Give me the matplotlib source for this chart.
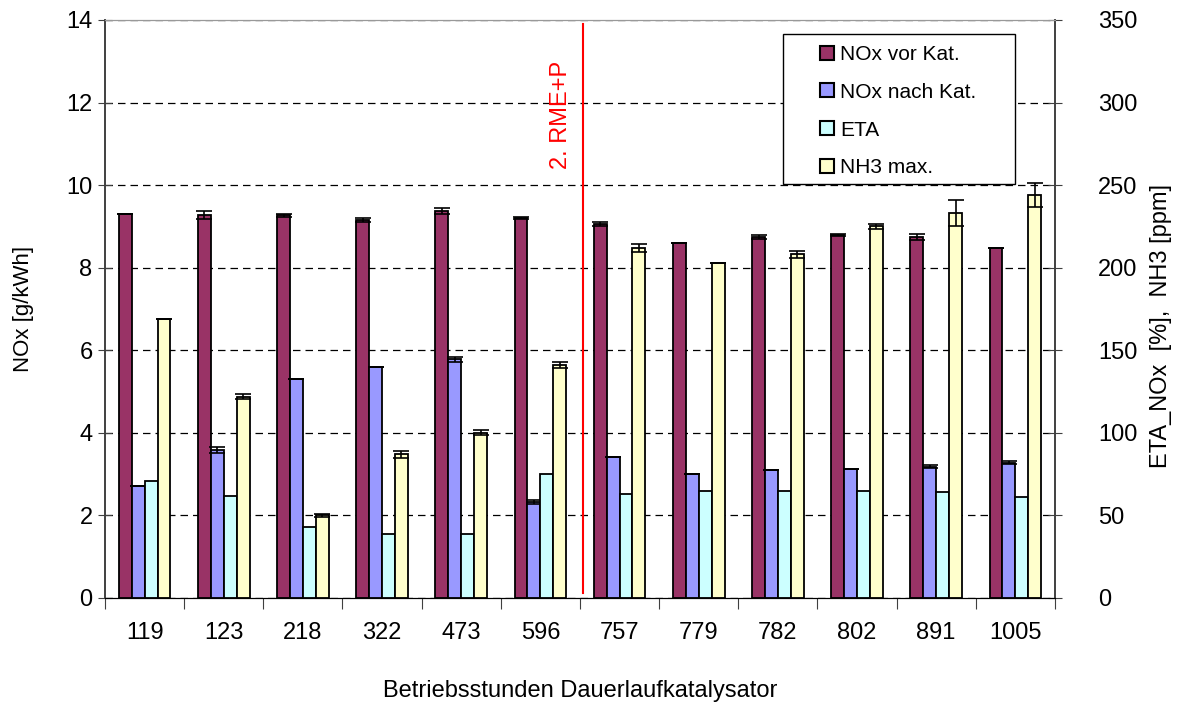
import numpy as np
import matplotlib.pyplot as plt
from matplotlib.patches import Rectangle, Patch

plt.rcParams['font.family'] = ['Liberation Sans', 'DejaVu Sans']

hours = ['119', '123', '218', '322', '473', '596', '757', '779', '782', '802', '891', '1005']
nox_vor = [9.30, 9.28, 9.27, 9.15, 9.38, 9.20, 9.06, 8.60, 8.74, 8.79, 8.74, 8.48]
nox_vor_err = [0, 0.10, 0.04, 0.05, 0.07, 0.02, 0.05, 0, 0.04, 0.03, 0.08, 0]
nox_nach = [2.71, 3.58, 5.30, 5.60, 5.78, 2.33, 3.41, 3.00, 3.10, 3.12, 3.18, 3.28]
nox_nach_err = [0, 0.08, 0, 0, 0.06, 0.05, 0, 0, 0, 0, 0.03, 0.04]
eta = [71, 62, 43, 39, 39, 75, 63, 65, 65, 65, 64, 61]
nh3 = [169, 122, 50, 87, 100, 141, 212, 203, 208, 225, 233, 244]
nh3_err = [0, 1.5, 0.7, 2, 1.5, 2, 2.5, 0, 2, 1.5, 8, 7]

labels = ['NOx vor Kat.', 'NOx nach Kat.', 'ETA', 'NH3 max.']
colors = ['#993366', '#9999FF', '#CCFFFF', '#FFFFCC']

fig = plt.figure(figsize=(11.8, 7.04), dpi=100)
ax = fig.add_axes([0.089, 0.1506, 0.805, 0.821])
ax2 = ax.twinx()

x = np.arange(len(hours))
w = 0.163
ekw = dict(ecolor='black', elinewidth=1.2, capsize=5.5, capthick=1.2)
bkw = dict(edgecolor='black', linewidth=1.3)

ax.bar(x - 1.5 * w, nox_vor, w, color=colors[0], yerr=nox_vor_err, error_kw=ekw, **bkw)
ax.bar(x - 0.5 * w, nox_nach, w, color=colors[1], yerr=nox_nach_err, error_kw=ekw, **bkw)
ax2.bar(x + 0.5 * w, eta, w, color=colors[2], **bkw)
ax2.bar(x + 1.5 * w, nh3, w, color=colors[3], yerr=nh3_err, error_kw=ekw, **bkw)

ax.set_xlim(-0.5, len(hours) - 0.5)
ax.set_ylim(0, 14)
ax2.set_ylim(0, 350)
ax.set_yticks(np.arange(0, 15, 2))
ax2.set_yticks(np.arange(0, 351, 50))

# group boundaries as major ticks, labels on minor ticks
ax.set_xticks(np.arange(-0.5, len(hours), 1))
ax.set_xticklabels([])
ax.set_xticks(x, minor=True)
ax.set_xticklabels(hours, minor=True, fontsize=17)
ax.tick_params(axis='x', which='major', length=8, direction='out', color='#404040')
ax.tick_params(axis='x', which='minor', length=0, pad=17)

ax.tick_params(axis='y', direction='inout', length=10, labelsize=17, pad=4, color='#404040')
ax2.tick_params(axis='y', direction='inout', length=10, labelsize=17, pad=26, color='#404040')

ax.yaxis.grid(True, linestyle=(0, (6, 4)), color='black', linewidth=0.9)
ax.set_axisbelow(True)

for a in (ax, ax2):
    a.spines['top'].set_color('#999999')
    a.spines['left'].set_color('#404040')
    a.spines['right'].set_color('#404040')
    a.spines['bottom'].set_color('black')
    a.spines['left'].set_linewidth(1.2)
    a.spines['right'].set_linewidth(1.2)

ax.set_ylabel('NOx [g/kWh]', fontsize=16)
ax.yaxis.set_label_coords(-0.075, 0.5)
ax2.set_ylabel('ETA_NOx  [%],  NH3 [ppm]', fontsize=17)
ax2.yaxis.set_label_coords(1.1, 0.47)
ax.set_xlabel('Betriebsstunden Dauerlaufkatalysator', fontsize=17, labelpad=26)

# switch to RME+P between 596 and 757
switch_x = 5.54
ax.plot([switch_x, switch_x], [0.12, 13.9], color='red', linewidth=1.5, zorder=5)
ax.text(switch_x - 0.28, 11.7, '2. RME+P', color='red', fontsize=17,
        rotation=90, ha='center', va='center', zorder=5)

# legend box
box = Rectangle((783 / 1180, 1 - 184 / 704), 232 / 1180, 150 / 704, transform=fig.transFigure,
                facecolor='white', edgecolor='black', linewidth=1.0, zorder=10)
fig.patches.append(box)
handles = [Patch(facecolor=c, edgecolor='black', linewidth=1.5) for c in colors]
leg = fig.legend(handles, labels, loc='upper left', bbox_to_anchor=(820 / 1180, 1 - 45 / 704),
                 frameon=False, fontsize=15, handlelength=0.65, handleheight=0.65,
                 handletextpad=0.3, labelspacing=0.9, borderaxespad=0, borderpad=0)
leg.set_zorder(11)

fig.savefig('out.png', dpi=100)
